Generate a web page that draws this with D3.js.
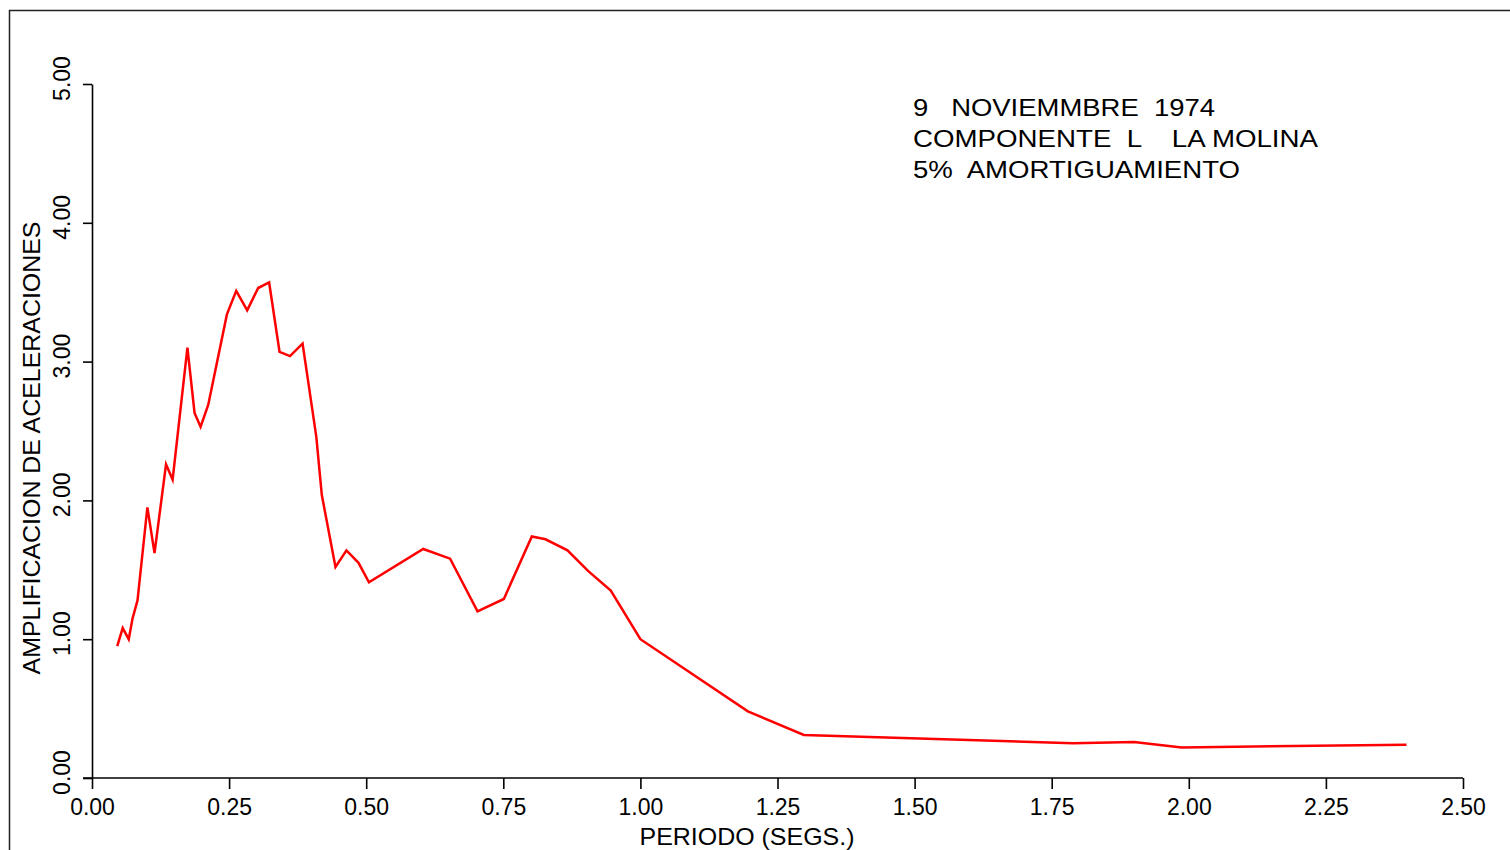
<!DOCTYPE html>
<html>
<head>
<meta charset="utf-8">
<script src="https://cdn.jsdelivr.net/npm/d3@7"></script>
<style>
  html, body { margin: 0; padding: 0; background: #fff; }
  svg { display: block; }
  text { font-family: "Liberation Sans", Arial, sans-serif; fill: #000; }
</style>
</head>
<body>
<svg id="chart" width="1510" height="850"></svg>
<script>
// Response spectrum: period (s) vs. acceleration amplification
const periods = [0.046, 0.056, 0.067, 0.074, 0.083, 0.101, 0.114, 0.135, 0.147, 0.174,
                 0.187, 0.198, 0.212, 0.246, 0.263, 0.283, 0.303, 0.323, 0.342, 0.361,
                 0.384, 0.409, 0.419, 0.444, 0.464, 0.486, 0.505, 0.604, 0.653, 0.703,
                 0.751, 0.802, 0.827, 0.867, 0.905, 0.946, 1.000, 1.196, 1.298, 1.789,
                 1.900, 1.987, 2.397];
const amplification = [0.95, 1.08, 1.00, 1.15, 1.28, 1.95, 1.62, 2.26, 2.15, 3.10,
                       2.63, 2.53, 2.69, 3.34, 3.51, 3.37, 3.53, 3.57, 3.07, 3.04,
                       3.13, 2.46, 2.04, 1.52, 1.64, 1.55, 1.41, 1.65, 1.58, 1.20,
                       1.29, 1.74, 1.72, 1.64, 1.49, 1.35, 1.00, 0.48, 0.31, 0.25,
                       0.26, 0.22, 0.24];
const xTicks = [0, 0.25, 0.5, 0.75, 1.0, 1.25, 1.5, 1.75, 2.0, 2.25, 2.5];
const yTicks = [0, 1, 2, 3, 4, 5];
const titleLines = ["9   NOVIEMMBRE  1974", "COMPONENTE  L    LA MOLINA", "5%  AMORTIGUAMIENTO"];
const xLabel = "PERIODO (SEGS.)";
const yLabel = "AMPLIFICACION DE ACELERACIONES";

const svg = d3.select("#chart");

// outer frame
svg.append("rect")
  .attr("x", 9.5).attr("y", 10.5)
  .attr("width", 1520).attr("height", 860)
  .attr("fill", "none").attr("stroke", "#222").attr("stroke-width", 1.5);

const x = d3.scaleLinear().domain([0, 2.5]).range([92, 1463]);
const y = d3.scaleLinear().domain([0, 5]).range([778, 84]);

const fmt = d3.format(".2f");

// x axis
const gx = svg.append("g").attr("transform", `translate(0,${y(0)})`)
  .call(d3.axisBottom(x).tickValues(xTicks).tickFormat(fmt).tickSize(11).tickSizeOuter(0));
gx.select(".domain").attr("d", `M83,0H${x(2.5)}`);
gx.selectAll("line, path").attr("stroke", "#000").attr("stroke-width", 1.6);
gx.selectAll("text").attr("y", 0).attr("dy", null)
  .attr("transform", "translate(0,37)")
  .style("font-size", "23px").attr("fill", "#000");

// y axis
const gy = svg.append("g").attr("transform", `translate(${x(0)},0)`)
  .call(d3.axisLeft(y).tickValues(yTicks).tickFormat(fmt).tickSize(9).tickSizeOuter(0));
gy.selectAll("line, path").attr("stroke", "#000").attr("stroke-width", 1.6);
gy.selectAll("text")
  .attr("x", 0).attr("y", 0).attr("dy", null)
  .attr("text-anchor", "middle")
  .attr("transform", "translate(-22,-6) rotate(-90)")
  .style("font-size", "23px").attr("fill", "#000");

// axis titles
svg.append("text")
  .attr("x", 747).attr("y", 845)
  .attr("text-anchor", "middle")
  .attr("textLength", 215).attr("lengthAdjust", "spacingAndGlyphs")
  .style("font-size", "24px")
  .text(xLabel);

svg.append("text")
  .attr("transform", "translate(40,448) rotate(-90)")
  .attr("text-anchor", "middle")
  .attr("textLength", 453).attr("lengthAdjust", "spacingAndGlyphs")
  .style("font-size", "24px")
  .text(yLabel);

// annotation block
const lineWidths = [302, 405, 327];
svg.append("g").selectAll("text")
  .data(titleLines)
  .join("text")
  .attr("x", 913)
  .attr("y", (d, i) => 116 + i * 31)
  .attr("textLength", (d, i) => lineWidths[i])
  .attr("lengthAdjust", "spacingAndGlyphs")
  .style("white-space", "pre")
  .attr("xml:space", "preserve")
  .style("font-size", "23.5px")
  .text(d => d);

// spectrum curve
const line = d3.line()
  .x((d, i) => x(periods[i]))
  .y(d => y(d));

svg.append("path")
  .datum(amplification)
  .attr("d", line)
  .attr("fill", "none")
  .attr("stroke", "#ff0000")
  .attr("stroke-width", 2.5)
  .attr("stroke-linejoin", "miter");
</script>
</body>
</html>
